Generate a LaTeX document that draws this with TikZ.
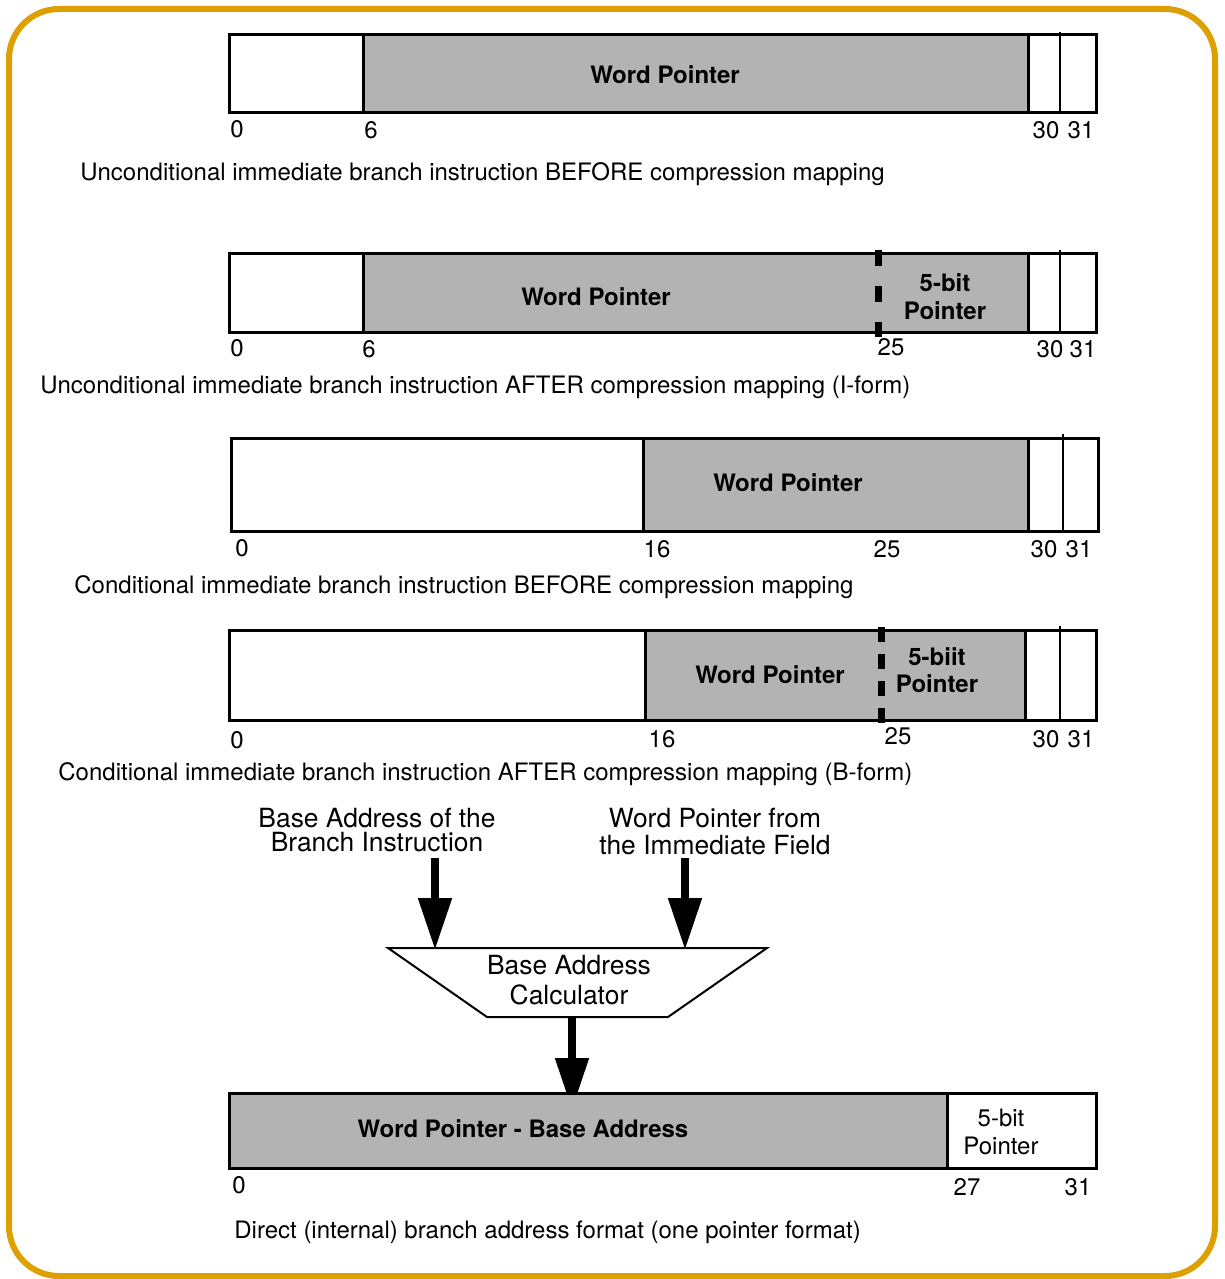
\documentclass[tikz,border=0pt]{standalone}
\usepackage{fontspec}
\setmainfont{TeX Gyre Heros}
\usetikzlibrary{arrows.meta, positioning, calc}
\definecolor{frameorange}{RGB}{222,160,0}
\definecolor{fieldgray}{RGB}{179,179,179}

\begin{document}
\fontsize{12}{13.5}\selectfont
\begin{tikzpicture}[
  x=0.5pt, y=-0.5pt,
  >={Triangle[width=16pt,length=26pt]},
  box/.style={line width=1.5pt},
  thinsep/.style={line width=1pt},
  cut/.style={line width=3.5pt, dash pattern=on 8pt off 10pt},
  field/.style={font=\bfseries, align=center, inner sep=0pt},
  plain/.style={align=center, inner sep=0pt},
  bitno/.style={inner sep=0pt},
  caption/.style={anchor=west, inner sep=0pt},
  bigarrow/.style={->, line width=4pt},
]
\useasboundingbox (0,0) rectangle (1225,1279);

% --- Frame ---
\draw[frameorange, line width=3pt, rounded corners=25pt] (9,9) rectangle (1215,1276);

% --- Unconditional, BEFORE ---
\fill[fieldgray] (363,35) rectangle (1028,113);
\draw[box] (229,35) rectangle (1096,113);
\draw[box] (363,35) -- (363,113);
\draw[box] (1028,35) -- (1028,113);
\draw[thinsep] (1060,32) -- (1060,113);
\node[field] (wp1) at (665,75) {Word Pointer};
\node[bitno] (n1a) at (237,129) {0};
\node[bitno] (n1b) at (371,130) {6};
\node[bitno] (n1c) at (1046,130) {30};
\node[bitno] (n1d) at (1081,130) {31};
\node[caption] (cap1) at (80,174) {Unconditional immediate branch instruction BEFORE compression mapping};

% --- Unconditional, AFTER (I-form) ---
\fill[fieldgray] (363,253) rectangle (1028,332);
\draw[box] (229,253) rectangle (1096,332);
\draw[box] (363,253) -- (363,332);
\draw[box] (1028,253) -- (1028,332);
\draw[thinsep] (1060,250) -- (1060,332);
\draw[cut] (878,250) -- (878,337);
\node[field] (wp2) at (596,297) {Word Pointer};
\node[field, font=\fontsize{12}{14}\bfseries] (fb2) at (945,297) {5-bit\\Pointer};
\node[bitno] (n2a) at (237,348) {0};
\node[bitno] (n2b) at (369,349) {6};
\node[bitno] (n2c) at (891,347) {25};
\node[bitno] (n2d) at (1050,349) {30};
\node[bitno] (n2e) at (1083,349) {31};
\node[caption] (cap2) at (40,387) {Unconditional immediate branch instruction AFTER compression mapping (I-form)};

% --- Conditional, BEFORE ---
\fill[fieldgray] (643,438) rectangle (1028,531);
\draw[box] (231,438) rectangle (1098,531);
\draw[box] (643,438) -- (643,531);
\draw[box] (1028,438) -- (1028,531);
\draw[thinsep] (1063,434) -- (1063,531);
\node[field] (wp3) at (788,483) {Word Pointer};
\node[bitno] (n3a) at (242,548) {0};
\node[bitno] (n3b) at (657,549) {16};
\node[bitno] (n3c) at (887,549) {25};
\node[bitno] (n3d) at (1044,549) {30};
\node[bitno] (n3e) at (1079,549) {31};
\node[caption] (cap3) at (74,587) {Conditional immediate branch instruction BEFORE compression mapping};

% --- Conditional, AFTER (B-form) ---
\fill[fieldgray] (645,630) rectangle (1025,720);
\draw[box] (229,630) rectangle (1096,720);
\draw[box] (645,630) -- (645,720);
\draw[box] (1025,630) -- (1025,720);
\draw[thinsep] (1060,626) -- (1060,720);
\draw[cut, dash pattern=on 7.5pt off 6pt] (881,627) -- (881,723);
\node[field, font=\fontsize{12}{13.5}\bfseries] (fb4) at (937,670) {5-biit\\Pointer};
\node[field] (wp4) at (770,675) {Word Pointer};
\node[bitno] (n4a) at (237,740) {0};
\node[bitno] (n4b) at (662,739) {16};
\node[bitno] (n4c) at (898,736) {25};
\node[bitno] (n4d) at (1046,739) {30};
\node[bitno] (n4e) at (1081,739) {31};
\node[caption] (cap4) at (58,774) {Conditional immediate branch instruction AFTER compression mapping (B-form)};

% --- Inputs ---
\node[plain, font=\fontsize{13.2}{12.2}\selectfont] (basein) at (377,830) {Base Address of the\\Branch Instruction};
\node[plain, font=\fontsize{13.2}{13.5}\selectfont] (wpin) at (715,832) {Word Pointer from\\the Immediate Field};
\coordinate (src1) at (435,858);
\coordinate (src2) at (685,858);
\coordinate (dst1) at (435,950);
\coordinate (dst2) at (685,950);
\draw[bigarrow] (src1) -- (dst1);
\draw[bigarrow] (src2) -- (dst2);

% --- Calculator ---
\draw[line width=1pt] (388,948) -- (767,948) -- (668,1017) -- (487,1017) -- cycle;
\node[plain, font=\fontsize{13.2}{15}\selectfont] (calc) at (569,980) {Base Address\\Calculator};
\coordinate (out1) at (572,1017);
\coordinate (out2) at (572,1110);
\draw[bigarrow] (out1) -- (out2);

% --- Direct branch address ---
\fill[fieldgray] (229,1093) rectangle (947,1168);
\draw[box] (229,1093) rectangle (1096,1168);
\draw[box] (947,1093) -- (947,1168);
\node[field] (wp5) at (523,1129) {Word Pointer - Base Address};
\node[plain, font=\fontsize{12}{14}\selectfont] (fb5) at (1001,1132) {5-bit\\Pointer};
\node[bitno] (n5a) at (239,1185) {0};
\node[bitno] (n5b) at (967,1187) {27};
\node[bitno] (n5c) at (1078,1187) {31};
\node[caption] (cap5) at (234,1232) {Direct (internal) branch address format (one pointer format)};

\end{tikzpicture}
\end{document}
